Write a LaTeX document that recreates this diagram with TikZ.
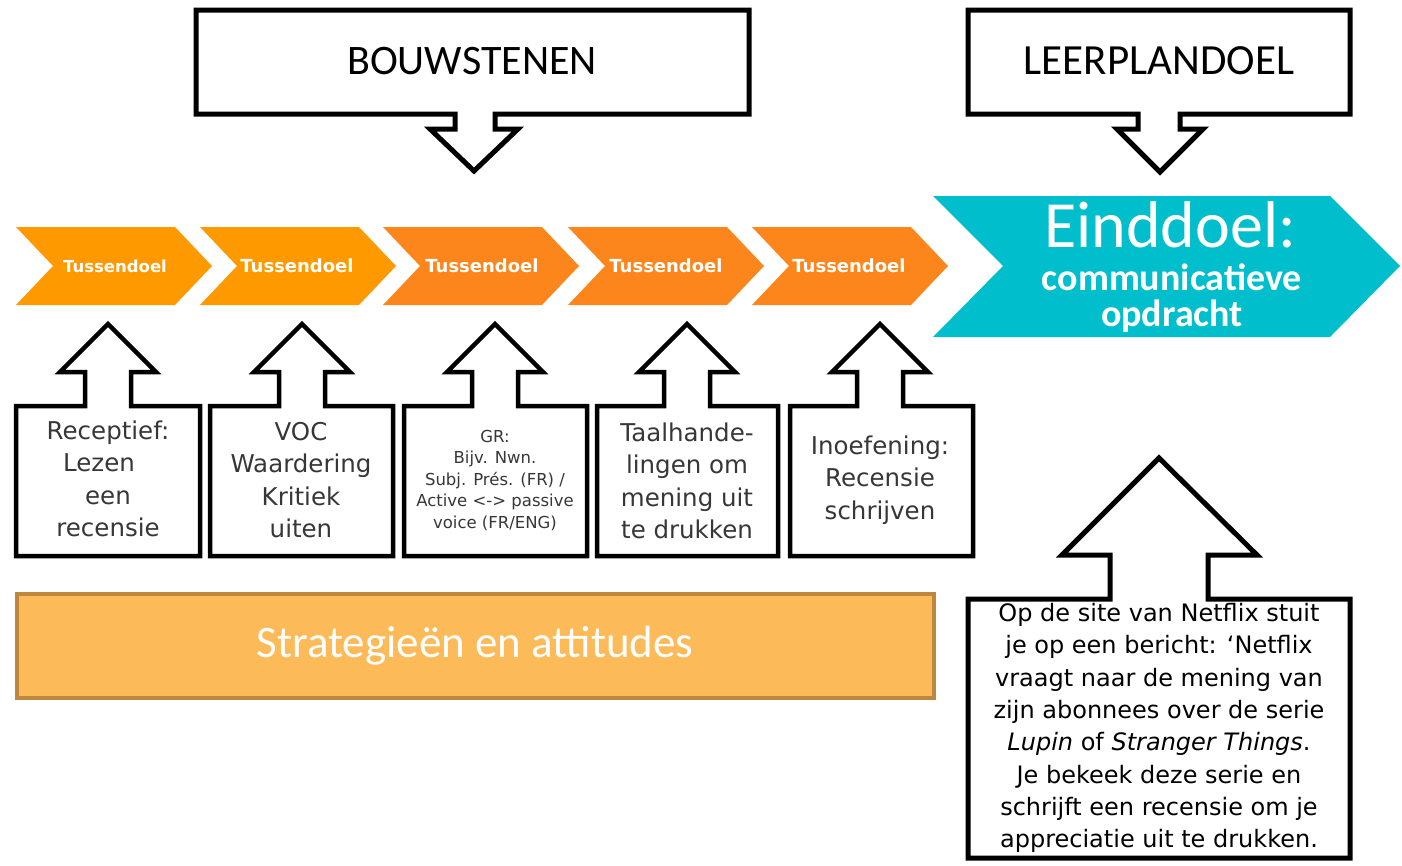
\documentclass[tikz,border=0pt]{standalone}
\usepackage{fontspec}
\setmainfont{DejaVu Sans}
\newfontfamily\carl{Carlito}
\definecolor{orA}{RGB}{255,153,0}
\definecolor{orB}{RGB}{253,134,28}
\definecolor{teal}{RGB}{0,190,204}
\definecolor{stratfill}{RGB}{253,186,88}
\definecolor{stratdraw}{RGB}{190,135,62}
\definecolor{boxtext}{RGB}{55,55,55}
\tikzset{
  outline/.style={draw=black, line width=4.5pt, fill=white, line join=miter},
  chevtext/.style={text=white, font=\bfseries\fontsize{18}{20}\selectfont},
  boxlabel/.style={align=center, text=boxtext, font=\fontsize{24.5}{32.3}\selectfont},
  calloutlabel/.style={text=black, font=\carl\fontsize{43}{48}\selectfont}
}
\begin{document}
\begin{tikzpicture}[x=1pt,y=-1pt]
\useasboundingbox[fill=white] (0,0) rectangle (1402,865);

% top callouts
\draw[outline, line width=5pt] (196,10) -- (749,10) -- (749,114) -- (495,114) -- (495,129) -- (518,129)
  -- (474,171) -- (430,129) -- (455,129) -- (455,114) -- (196,114) -- cycle;
\node[calloutlabel, font=\carl\fontsize{42}{48}\selectfont] (bouw) at (472,61) {BOUWSTENEN};
\draw[outline, line width=5pt] (968,10) -- (1350,10) -- (1350,114) -- (1180,114) -- (1180,129) -- (1203,129)
  -- (1160,172) -- (1117,129) -- (1138,129) -- (1138,114) -- (968,114) -- cycle;
\node[calloutlabel] (leer) at (1159,61) {LEERPLANDOEL};

% chevrons
\foreach \L/\c/\n in {16/orA/1, 200/orA/2, 383/orB/3, 568/orB/4, 752/orB/5}{
  \fill[\c] (\L,227) -- ({\L+159},227) -- ({\L+196},266) -- ({\L+159},305) -- (\L,305) -- ({\L+37},266) -- cycle;
}
\node[chevtext, font=\bfseries\fontsize{16.5}{18}\selectfont] (t1) at (115,266) {Tussendoel};
\node[chevtext] (t2) at (297,266) {Tussendoel};
\node[chevtext] (t3) at (482,266) {Tussendoel};
\node[chevtext] (t4) at (666,266) {Tussendoel};
\node[chevtext] (t5) at (849,266) {Tussendoel};

\fill[teal] (933,196) -- (1330,196) -- (1400,266) -- (1330,337) -- (933,337) -- (1003,266) -- cycle;
\node[text=white, anchor=base, font=\carl\fontsize{66}{70}\selectfont] (eind) at (1170,247) {Einddoel:};
\node[text=white, anchor=base, font=\carl\bfseries\fontsize{38}{40}\selectfont] (comm) at (1172,290) {communicatieve};
\node[text=white, anchor=base, font=\carl\bfseries\fontsize{38}{40}\selectfont] (opdr) at (1172,326) {opdracht};

% bottom boxes with up arrows
\foreach \l/\r/\cx in {16/200/108, 210/393/302, 404/587/495, 597/778/687, 790/973/880}{
  \draw[outline] (\l,556) -- (\l,406) -- ({\cx-23},406) -- ({\cx-23},372) -- ({\cx-48},372) -- (\cx,324)
    -- ({\cx+48},372) -- ({\cx+23},372) -- ({\cx+23},406) -- (\r,406) -- (\r,556) -- cycle;
}
\node[boxlabel] (b1) at (108,479) {Receptief:\\Lezen\kern18pt\\een\\recensie};
\node[boxlabel] (b2) at (301,480) {VOC\\Waardering\\Kritiek\\uiten};
\node[boxlabel, font=\fontsize{16.5}{21.5}\selectfont] (b3) at (495,480) {GR:\\Bijv. Nwn.\\Subj. Prés. (FR) /\\Active <-> passive\\voice (FR/ENG)};
\node[boxlabel] (b4) at (687,481) {Taalhande-\\lingen om\\mening uit\\te drukken};
\node[boxlabel] (b5) at (880,480) {Inoefening:\\Recensie\\schrijven};

% strategies bar
\draw[fill=stratfill, draw=stratdraw, line width=4pt] (17,594) rectangle (934,698);
\node[text=white, font=\carl\fontsize{45}{48}\selectfont] (strat) at (475,646) {Strategieën en attitudes};

% big box with up arrow
\draw[outline, line width=5pt] (968,858) -- (968,599) -- (1110,599) -- (1110,555) -- (1062,555) -- (1159,458)
  -- (1257,555) -- (1208,555) -- (1208,599) -- (1350,599) -- (1350,858) -- cycle;
\node[align=center, text=black, font=\fontsize{24}{32.3}\selectfont] (opd) at (1159,728)
  {Op de site van Netflix stuit\\je op een bericht: ‘Netflix\\vraagt naar de mening van\\zijn abonnees over de serie\\\textit{Lupin} of \textit{Stranger Things}.\\Je bekeek deze serie en\\schrijft een recensie om je\\appreciatie uit te drukken.};
\end{tikzpicture}
\end{document}
